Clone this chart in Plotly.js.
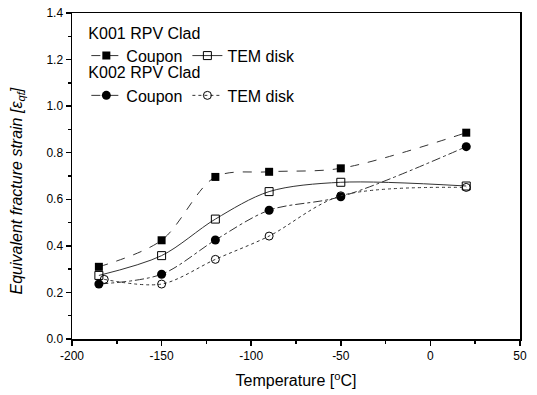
<!DOCTYPE html>
<html><head><meta charset="utf-8">
<script src="https://cdn.plot.ly/plotly-3.0.1.min.js"></script>
<style>html,body{margin:0;padding:0;background:#fff}#chart{width:537px;height:395px}</style>
</head><body><div id="chart"></div>
<script>
const temps = [-185, -150, -120, -90, -50, 20];
const k001Coupon = [0.31, 0.424, 0.696, 0.718, 0.733, 0.886];
const k001Tem = [0.273, 0.358, 0.515, 0.633, 0.673, 0.657];
const k002Coupon = [0.236, 0.278, 0.425, 0.553, 0.611, 0.826];
const k002TemTemps = [-182, -150, -120, -90, -50, 20];
const k002Tem = [0.256, 0.236, 0.342, 0.442, 0.615, 0.651];
const xTicks = [-200, -150, -100, -50, 0, 50];
const yTicks = [0.0, 0.2, 0.4, 0.6, 0.8, 1.0, 1.2, 1.4];

const lineCol = '#333';
const traces = [
  {x: temps, y: k001Coupon, name: 'Coupon', legend: 'legend', mode: 'lines+markers',
   line: {shape: 'spline', smoothing: 0.9, color: lineCol, width: 1, dash: 'dash'},
   marker: {symbol: 'square', size: 8, color: '#000'}},
  {x: temps, y: k001Tem, name: 'TEM disk', legend: 'legend', mode: 'lines+markers',
   line: {shape: 'spline', smoothing: 0.9, color: lineCol, width: 1, dash: 'solid'},
   marker: {symbol: 'square-open', size: 8, color: '#000', line: {width: 1}}},
  {x: temps, y: k002Coupon, name: 'Coupon', legend: 'legend2', mode: 'lines+markers',
   line: {shape: 'spline', smoothing: 0.9, color: lineCol, width: 1, dash: 'dashdot'},
   marker: {symbol: 'circle', size: 9, color: '#000'}},
  {x: k002TemTemps, y: k002Tem, name: 'TEM disk', legend: 'legend2', mode: 'lines+markers',
   line: {shape: 'spline', smoothing: 0.9, color: lineCol, width: 1, dash: 'dot'},
   marker: {symbol: 'circle-open', size: 8, color: '#000', line: {width: 1}}}
];

const font = {family: 'Liberation Sans, Arial, sans-serif', color: '#000'};
const legendBase = {
  orientation: 'h', xref: 'paper', yref: 'paper', xanchor: 'left', yanchor: 'top',
  bgcolor: 'rgba(0,0,0,0)', font: {family: font.family, size: 16, color: '#000'},
  itemwidth: 30, tracegroupgap: 0
};
const layout = {
  width: 537, height: 395,
  margin: {l: 72, r: 17, t: 13, b: 56},
  paper_bgcolor: '#fff', plot_bgcolor: '#fff',
  font: font,
  showlegend: true,
  legend: Object.assign({}, legendBase, {x: 0.032, y: 0.985,
    title: {text: 'K001 RPV Clad', side: 'top', font: {size: 16, family: font.family}}}),
  legend2: Object.assign({}, legendBase, {x: 0.032, y: 0.863,
    title: {text: 'K002 RPV Clad', side: 'top', font: {size: 16, family: font.family}}}),
  xaxis: {
    range: [-200, 50], tickvals: xTicks, ticktext: xTicks.map(String),
    ticks: 'outside', ticklen: 5, tickwidth: 1.5, tickcolor: '#000',
    minor: {dtick: 25, ticks: 'outside', ticklen: 3, tickcolor: '#000'},
    showline: true, linecolor: '#000', linewidth: 1.5, mirror: true,
    showgrid: false, zeroline: false,
    tickfont: {size: 12, family: font.family},
    title: {text: 'Temperature [<sup>o</sup>C]', font: {size: 16, family: font.family}, standoff: 13}
  },
  yaxis: {
    range: [0, 1.4], tickvals: yTicks, ticktext: yTicks.map(v => v.toFixed(1)),
    ticks: 'outside', ticklen: 5, tickwidth: 1.5, tickcolor: '#000',
    minor: {dtick: 0.1, ticks: 'outside', ticklen: 3, tickcolor: '#000'},
    showline: true, linecolor: '#000', linewidth: 1.5, mirror: true,
    showgrid: false, zeroline: false,
    tickfont: {size: 12, family: font.family}
  },
  annotations: [{
    text: '<i>Equivalent fracture strain [ε<sub>qf</sub>]</i>',
    xref: 'paper', yref: 'paper', x: -0.121, y: 0.455,
    xanchor: 'center', yanchor: 'middle', textangle: -90, showarrow: false,
    font: {size: 16, family: font.family, color: '#000'}
  }]
};
Plotly.newPlot('chart', traces, layout, {staticPlot: true, displayModeBar: false});
</script></body></html>
